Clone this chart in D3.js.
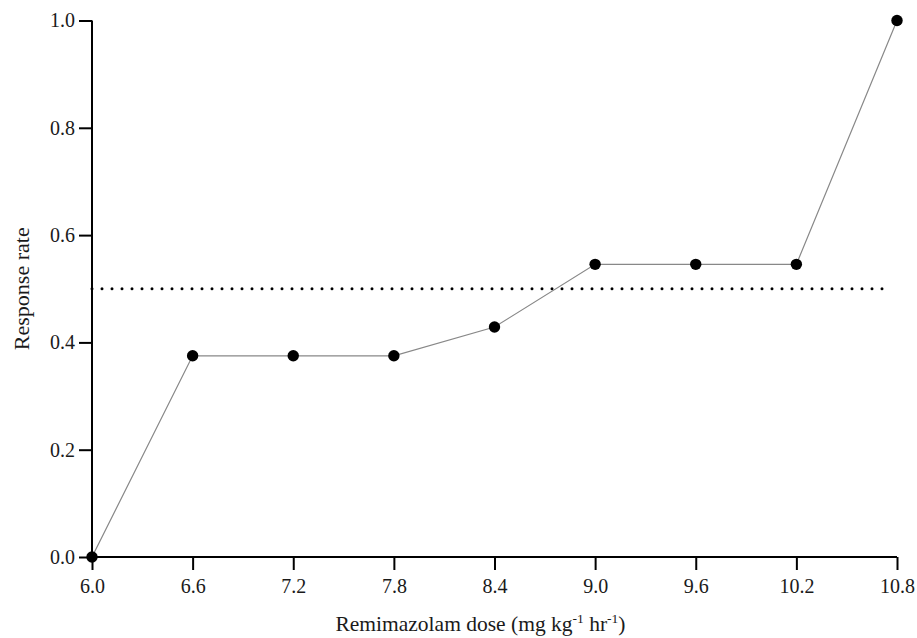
<!DOCTYPE html>
<html>
<head>
<meta charset="utf-8">
<script src="https://cdn.jsdelivr.net/npm/d3@7"></script>
<style>
  body { margin: 0; background: #fff; }
  svg { display: block; }
  svg text { font-family: "Liberation Serif", "Times New Roman", serif; fill: #1a1a1a; }
  svg .tick text { font-size: 20px; }
</style>
</head>
<body>
<svg width="917" height="638"></svg>
<script>
// doses and response rates
const doses = [6.0, 6.6, 7.2, 7.8, 8.4, 9.0, 9.6, 10.2, 10.8]
const rates = [0, 0.375, 0.375, 0.375, 0.4286, 0.5455, 0.5455, 0.5455, 1.0]
const xTicks = [6.0, 6.6, 7.2, 7.8, 8.4, 9.0, 9.6, 10.2, 10.8]
const yTicks = [0, 0.2, 0.4, 0.6, 0.8, 1.0]
const refLine = 0.5

const svg = d3.select('svg')
const mLeft = 92, mRight = 897, mTop = 20.5, mBottom = 557

const x = d3.scaleLinear().domain([6.0, 10.8]).range([mLeft, mRight])
const y = d3.scaleLinear().domain([0, 1]).range([mBottom, mTop])

// reference line at 50%
svg.append('line')
  .attr('x1', x(6.0)).attr('x2', x(10.76))
  .attr('y1', y(refLine)).attr('y2', y(refLine))
  .attr('stroke', '#000')
  .attr('stroke-width', 3)
  .attr('stroke-linecap', 'round')
  .attr('stroke-dasharray', '0 10')

const xAxis = svg.append('g')
  .attr('transform', `translate(0,${mBottom})`)
  .call(d3.axisBottom(x).tickValues(xTicks).tickFormat(d3.format('.1f')).tickSize(13).tickPadding(9))
const yAxis = svg.append('g')
  .attr('transform', `translate(${mLeft},0)`)
  .call(d3.axisLeft(y).tickValues(yTicks).tickFormat(d3.format('.1f')).tickSize(13).tickPadding(4))

for (const g of [xAxis, yAxis]) {
  g.attr('font-size', null).attr('font-family', null)
  g.select('.domain').attr('stroke', '#000').attr('stroke-width', 2)
  g.selectAll('.tick line').attr('stroke', '#000').attr('stroke-width', 2)
}
xAxis.select('.domain').attr('d', `M${mLeft},0H${mRight}`)
yAxis.select('.domain').attr('d', `M0,${mBottom}V${mTop}`)

// connecting line
const pts = doses.map((d, i) => [d, rates[i]])
svg.append('path')
  .datum(pts)
  .attr('fill', 'none')
  .attr('stroke', '#888')
  .attr('stroke-width', 1.2)
  .attr('d', d3.line().x(d => x(d[0])).y(d => y(d[1])))

svg.selectAll('circle.pt')
  .data(pts)
  .enter().append('circle')
  .attr('class', 'pt')
  .attr('cx', d => x(d[0]))
  .attr('cy', d => y(d[1]))
  .attr('r', 5.7)
  .attr('fill', '#000')

// axis titles
const xt = svg.append('text')
  .attr('x', (mLeft + mRight) / 2 - 14).attr('y', 631)
  .attr('text-anchor', 'middle')
  .style('font-size', '21.5px')
xt.append('tspan').text('Remimazolam dose (mg kg')
xt.append('tspan').attr('dy', -8).style('font-size', '13.5px').text('-1')
xt.append('tspan').attr('dy', 8).text(' hr')
xt.append('tspan').attr('dy', -8).style('font-size', '13.5px').text('-1')
xt.append('tspan').attr('dy', 8).text(')')

svg.append('text')
  .attr('transform', `translate(28.5,${(mTop + mBottom) / 2}) rotate(-90)`)
  .attr('text-anchor', 'middle')
  .style('font-size', '22px')
  .text('Response rate')
</script>
</body>
</html>
